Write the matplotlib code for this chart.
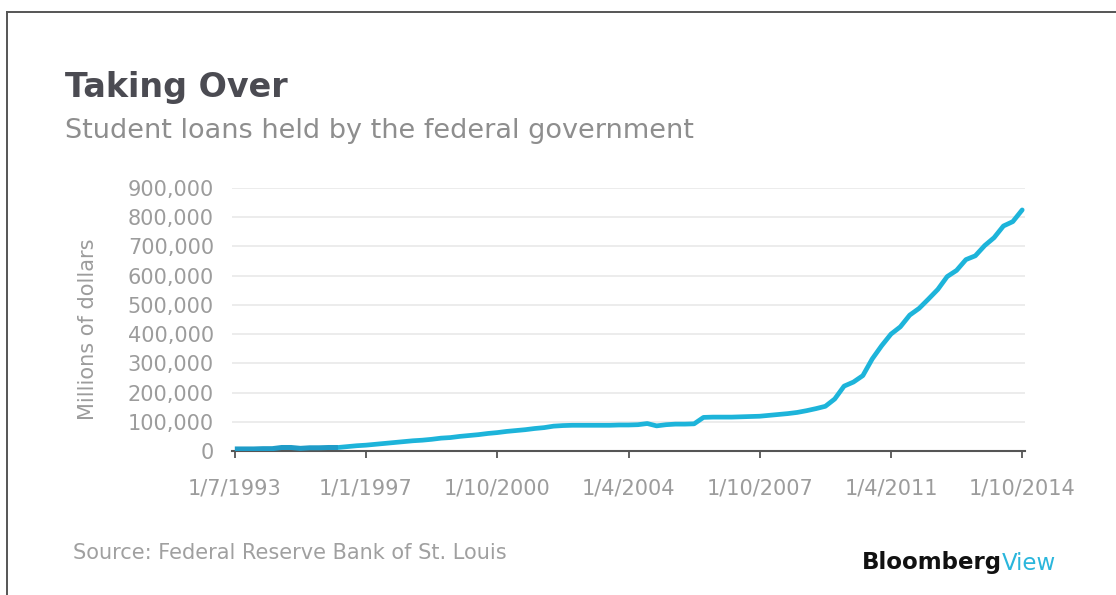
import matplotlib.pyplot as plt
import numpy as np

# quarterly federal student loan holdings, millions of dollars
loans = [7000, 7000, 7000, 8000, 8000, 12000, 12000, 9000, 11000, 11000,
         12000, 12000, 15000, 18000, 20000, 23000, 26000, 29000, 32000, 35000,
         37000, 40000, 44000, 46000, 50000, 53000, 56000, 60000, 63000, 67000,
         70000, 73000, 77000, 80000, 85000, 87000, 88000, 88000, 88000, 88000,
         88000, 89000, 89000, 90000, 94000, 86000, 90000, 92000, 92000, 93000,
         115000, 116000, 116000, 116000, 117000, 118000, 119000, 122000, 125000, 128000,
         132000, 138000, 145000, 153000, 178000, 222000, 236000, 258000, 315000, 360000,
         400000, 425000, 465000, 488000, 520000, 553000, 597000, 618000, 655000, 668000,
         703000, 730000, 770000, 785000, 825000]
n_early = 12  # first stretch drawn in the darker shade

tick_labels = ["1/7/1993", "1/1/1997", "1/10/2000", "1/4/2004",
               "1/10/2007", "1/4/2011", "1/10/2014"]
tick_step = 14
y_ticks = [0, 100000, 200000, 300000, 400000, 500000, 600000, 700000, 800000, 900000]

fig = plt.figure(figsize=(11.16, 5.95), dpi=100)
fig.patch.set_facecolor("white")

ax = fig.add_axes([232 / 1116, (595 - 451) / 595, (1025 - 232) / 1116, (451 - 188) / 595])
x = np.arange(len(loans))

ax.plot(x[n_early - 1:], loans[n_early - 1:], color="#1db4da", lw=3.4,
        solid_capstyle="round", solid_joinstyle="round", zorder=3)
ax.plot(x[:n_early], loans[:n_early], color="#1f9cc8", lw=3.6,
        solid_capstyle="butt", zorder=4)

ax.set_xlim(-0.3, len(loans) - 1 + 0.3)
ax.set_ylim(0, 900000)
ax.set_yticks(y_ticks)
ax.set_yticklabels([f"{v:,}" for v in y_ticks])
ax.set_xticks(x[::tick_step])
ax.set_xticklabels(tick_labels)

ax.grid(axis="y", color="#e9e9e9", lw=1.2)
ax.set_axisbelow(True)
for side in ["top", "right", "left"]:
    ax.spines[side].set_visible(False)
ax.spines["bottom"].set_color("#555555")
ax.spines["bottom"].set_linewidth(1.5)
ax.spines["bottom"].set_zorder(2)

ax.tick_params(axis="y", length=0, pad=13, labelsize=15, labelcolor="#9c9c9c")
ax.tick_params(axis="x", length=5, width=1.3, color="#555555", pad=15,
               labelsize=15, labelcolor="#9c9c9c")

fig.text(88 / 1116, 1 - 329 / 595, "Millions of dollars", rotation=90,
         ha="center", va="center", fontsize=15, color="#9c9c9c")

fig.text(65 / 1116, 1 - 88 / 595, "Taking Over", fontsize=24, fontweight="bold",
         color="#4b4b52", ha="left", va="center")
fig.text(65 / 1116, 1 - 131 / 595, "Student loans held by the federal government",
         fontsize=19.5, color="#8e8e8e", ha="left", va="center")

fig.text(73 / 1116, 1 - 553 / 595, "Source: Federal Reserve Bank of St. Louis",
         fontsize=15, color="#a0a0a0", ha="left", va="center")

brand = fig.text(862 / 1116, 1 - 563 / 595, "Bloomberg", fontsize=16.5,
                 fontweight="bold", color="#111111", ha="left", va="center")
fig.canvas.draw()
bb = brand.get_window_extent()
fig.text(bb.x1 / 1116, 1 - 563 / 595, "View", fontsize=16.5, color="#2ab6dc",
         ha="left", va="center")

# frame lines along the top and left edges
fig.add_artist(plt.Line2D([7 / 1116, 7 / 1116], [0, 1 - 12 / 595],
                          color="#555555", lw=1.4, transform=fig.transFigure))
fig.add_artist(plt.Line2D([7 / 1116, 1], [1 - 12 / 595, 1 - 12 / 595],
                          color="#555555", lw=1.4, transform=fig.transFigure))

fig.savefig("out.png", dpi=100, facecolor="white")
